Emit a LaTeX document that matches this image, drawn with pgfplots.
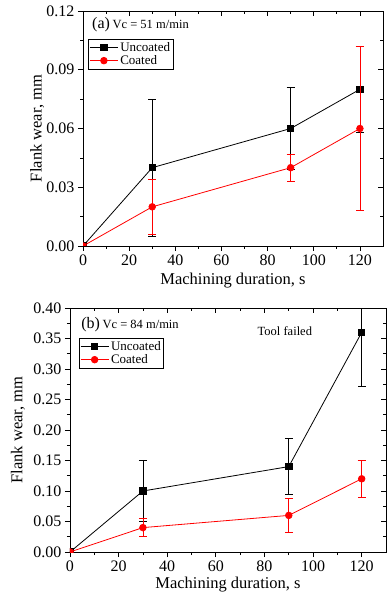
\documentclass[border=0pt]{standalone}
\usepackage{pgfplots}
\pgfplotsset{compat=1.18}
\usepackage{fontspec}
\setmainfont{Liberation Serif}
\definecolor{myred}{RGB}{255,0,0}
\begin{document}
\begin{tikzpicture}
\path[use as bounding box] (0,0) rectangle (387pt,598pt);
\pgfplotsset{
 common/.style={
  scale only axis, xmin=0, xmax=130, xtick={0,20,40,60,80,100,120},
  minor x tick num=1, minor y tick num=1,
  tick align=outside, xtick pos=left, ytick pos=left,
  major tick length=5pt, minor tick length=3pt,
  tick style={line width=0.7pt, black},
  axis line style={line width=0.8pt},
  clip marker paths=true,
  ticklabel style={font=\fontsize{16}{18}\selectfont},
  label style={font=\fontsize{16.5}{19}\selectfont},
  /pgf/number format/assume math mode=true,
  y tick label style={/pgf/number format/.cd, fixed, fixed zerofill, precision=2, assume math mode=true, /tikz/.cd},
  legend cell align=left,
  legend style={draw=black, line width=0.8pt, font=\fontsize{13}{14}\selectfont,
    inner xsep=1pt, inner ysep=1pt, row sep=-1.5pt},
  legend image code/.code={\draw[mark repeat=2,mark phase=2] plot coordinates {(0pt,0pt) (14pt,0pt) (28pt,0pt)};},
  xlabel={Machining duration, s},
  ylabel={Flank wear, mm},
 },
 mirror/.style={
  scale only axis, xmin=0, xmax=130, xtick={0,20,40,60,80,100,120},
  minor x tick num=1, minor y tick num=1,
  tick align=inside, xtick pos=right, ytick pos=right,
  major tick length=5pt, minor tick length=3pt,
  tick style={line width=0.7pt, black},
  axis line style={draw=none},
  xticklabels={}, yticklabels={},
 },
 unc/.style={black, line width=0.8pt, mark=square*, mark size=3.2pt,
   mark options={solid, fill=black},
   error bars/.cd, y dir=both, y explicit,
   error bar style={line width=0.8pt, black},
   error mark options={rotate=90, mark size=4pt, line width=0.8pt, black}},
 coa/.style={myred, line width=0.8pt, mark=*, mark size=3.3pt,
   mark options={solid, fill=myred},
   error bars/.cd, y dir=both, y explicit,
   error bar style={line width=0.8pt, myred},
   error mark options={rotate=90, mark size=4pt, line width=0.8pt, myred}},
}
% Panel (a)
\begin{axis}[common, at={(83pt,352pt)}, anchor=south west, width=300pt, height=235pt,
  ymin=0, ymax=0.12, ytick={0,0.03,0.06,0.09,0.12},
  xlabel style={at={(axis description cs:0.5,-0.145)}, anchor=center},
  ylabel style={at={(axis description cs:-0.153,0.5)}, anchor=center, rotate=0},
  legend style={at={(0.017,0.881)}, anchor=north west}]
\addplot[unc] coordinates {(0,0) (30,0.04) += (0,0.035) -= (0,0.035) (90,0.06) += (0,0.021) -= (0,0.021) (120,0.08) += (0,0.022) -= (0,0.022)};
\addlegendentry{Uncoated}
\addplot[coa] coordinates {(0,0) (30,0.02) += (0,0.014) -= (0,0.014) (90,0.04) += (0,0.007) -= (0,0.007) (120,0.06) += (0,0.042) -= (0,0.042)};
\addlegendentry{Coated}
\node[anchor=west, inner sep=0pt] at (axis description cs:0.03,0.94) {\fontsize{16}{18}\selectfont (a)\,\fontsize{12.5}{14}\selectfont Vc = 51 m/min};
\end{axis}
\begin{axis}[mirror, at={(83pt,352pt)}, anchor=south west, width=300pt, height=235pt,
  ymin=0, ymax=0.12, ytick={0,0.03,0.06,0.09,0.12}]
\end{axis}
% Panel (b)
\begin{axis}[common, at={(70pt,46pt)}, anchor=south west, width=316pt, height=244pt,
  ymin=0, ymax=0.40, ytick={0,0.05,0.10,0.15,0.20,0.25,0.30,0.35,0.40},
  xlabel style={at={(axis description cs:0.5,-0.135)}, anchor=center},
  ylabel style={at={(axis description cs:-0.165,0.5)}, anchor=center, rotate=0},
  legend style={at={(0.028,0.877)}, anchor=north west}]
\addplot[unc] coordinates {(0,0) (30,0.10) += (0,0.05) -= (0,0.05) (90,0.14) += (0,0.046) -= (0,0.046) (120,0.36) += (0,0.088) -= (0,0.088)};
\addlegendentry{Uncoated}
\addplot[coa] coordinates {(0,0) (30,0.04) += (0,0.015) -= (0,0.015) (90,0.06) += (0,0.028) -= (0,0.028) (120,0.12) += (0,0.03) -= (0,0.03)};
\addlegendentry{Coated}
\node[anchor=west, inner sep=0pt] at (axis description cs:0.035,0.93) {\fontsize{16}{18}\selectfont (b)\,\fontsize{12.5}{14}\selectfont Vc = 84 m/min};
\node[anchor=center, inner sep=0pt] at (axis description cs:0.68,0.906) {\fontsize{12.5}{14}\selectfont Tool failed};
\end{axis}
\begin{axis}[mirror, at={(70pt,46pt)}, anchor=south west, width=316pt, height=244pt,
  ymin=0, ymax=0.40, ytick={0,0.05,0.10,0.15,0.20,0.25,0.30,0.35,0.40}]
\end{axis}
\end{tikzpicture}
\end{document}
